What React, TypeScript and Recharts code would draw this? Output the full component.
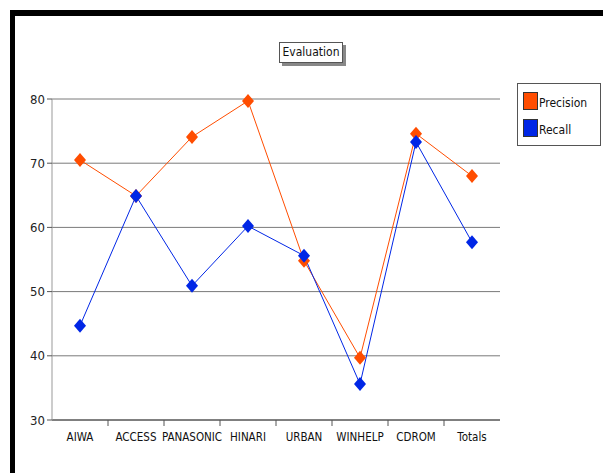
import { LineChart, Line, XAxis, YAxis, CartesianGrid } from 'recharts';

const categories = ['AIWA', 'ACCESS', 'PANASONIC', 'HINARI', 'URBAN', 'WINHELP', 'CDROM', 'Totals'];
const precision = [70.5, 64.9, 74.1, 79.7, 54.8, 39.7, 74.6, 68.0];
const recall = [44.7, 64.9, 50.9, 60.2, 55.6, 35.6, 73.3, 57.7];
const yTicks = [30, 40, 50, 60, 70, 80];

const series = [
  { key: 'precision', name: 'Precision', color: '#ff4d00' },
  { key: 'recall', name: 'Recall', color: '#0026e6' },
];

const data = categories.map((name, i) => ({
  name,
  precision: precision[i],
  recall: recall[i],
}));

const FONT = 'Tahoma, "DejaVu Sans Condensed", "Liberation Sans Narrow", "Liberation Sans", sans-serif';

const Diamond = (props: any) => {
  const { cx, cy, fill } = props;
  if (cx == null || cy == null) return null;
  const w = 6;
  const h = 7;
  return (
    <polygon
      points={`${cx},${cy - h} ${cx + w},${cy} ${cx},${cy + h} ${cx - w},${cy}`}
      fill={fill}
    />
  );
};

const CategoryTick = (props: any) => {
  const { x, y, payload, index } = props;
  const half = 28;
  const axisY = y - 8;
  return (
    <g>
      {index < categories.length - 1 && (
        <line x1={x + half} x2={x + half} y1={axisY} y2={axisY + 6} stroke="#555" />
      )}
      <text x={x} y={axisY + 21} textAnchor="middle" fontSize={11.5} fill="#111" fontFamily={FONT}>
        {payload.value}
      </text>
    </g>
  );
};

export default function App() {
  return (
    <div style={{ position: 'absolute', left: 0, top: 0, width: 603, height: 473, background: '#fff', overflow: 'hidden' }}>
      <div
        style={{
          position: 'absolute',
          left: 10,
          top: 10,
          width: 610,
          height: 458,
          borderTop: '6px solid #000',
          borderLeft: '5px solid #000',
          borderBottom: '2px solid #555',
        }}
      />
      <div style={{ position: 'absolute', left: 0, top: 0 }}>
        <LineChart
          width={603}
          height={473}
          data={data}
          margin={{ top: 99, right: 103, bottom: 23, left: 12 }}
        >
          <CartesianGrid vertical={false} stroke="#7a7a7a" horizontalValues={[40, 50, 60, 70, 80]} />
          <XAxis
            dataKey="name"
            height={30}
            padding={{ left: 28, right: 28 }}
            axisLine={{ stroke: '#000' }}
            tickLine={false}
            tick={<CategoryTick />}
            interval={0}
          />
          <YAxis
            width={40}
            domain={[30, 80]}
            ticks={yTicks}
            tickSize={5}
            tickMargin={2}
            axisLine={{ stroke: '#999' }}
            tickLine={{ stroke: '#555' }}
            tick={{ fontSize: 13, fill: '#222', fontFamily: FONT }}
          />
          {series.map((s) => (
            <Line
              key={s.key}
              dataKey={s.key}
              name={s.name}
              stroke={s.color}
              strokeWidth={1}
              fill={s.color}
              dot={<Diamond fill={s.color} />}
              activeDot={false}
              isAnimationActive={false}
            />
          ))}
        </LineChart>
      </div>
      <div
        style={{
          position: 'absolute',
          left: 279,
          top: 42,
          width: 62,
          height: 19,
          border: '1px solid #555',
          background: '#fff',
          boxShadow: '3px 3px 0 #888',
          fontFamily: FONT,
          fontSize: 12,
          lineHeight: '19px',
          textAlign: 'center',
          color: '#111',
        }}
      >
        Evaluation
      </div>
      <div
        style={{
          position: 'absolute',
          left: 517,
          top: 83,
          width: 82,
          height: 61,
          border: '1px solid #555',
          background: '#fff',
          fontFamily: FONT,
          fontSize: 12,
          color: '#111',
        }}
      >
        {series.map((s, i) => (
          <div key={s.key} style={{ position: 'absolute', left: 5, top: 8 + i * 27, display: 'flex', alignItems: 'center' }}>
            <div style={{ width: 13, height: 16, background: s.color, border: '1px solid #333' }} />
            <span style={{ marginLeft: 1, marginTop: 4 }}>{s.name}</span>
          </div>
        ))}
      </div>
    </div>
  );
}
